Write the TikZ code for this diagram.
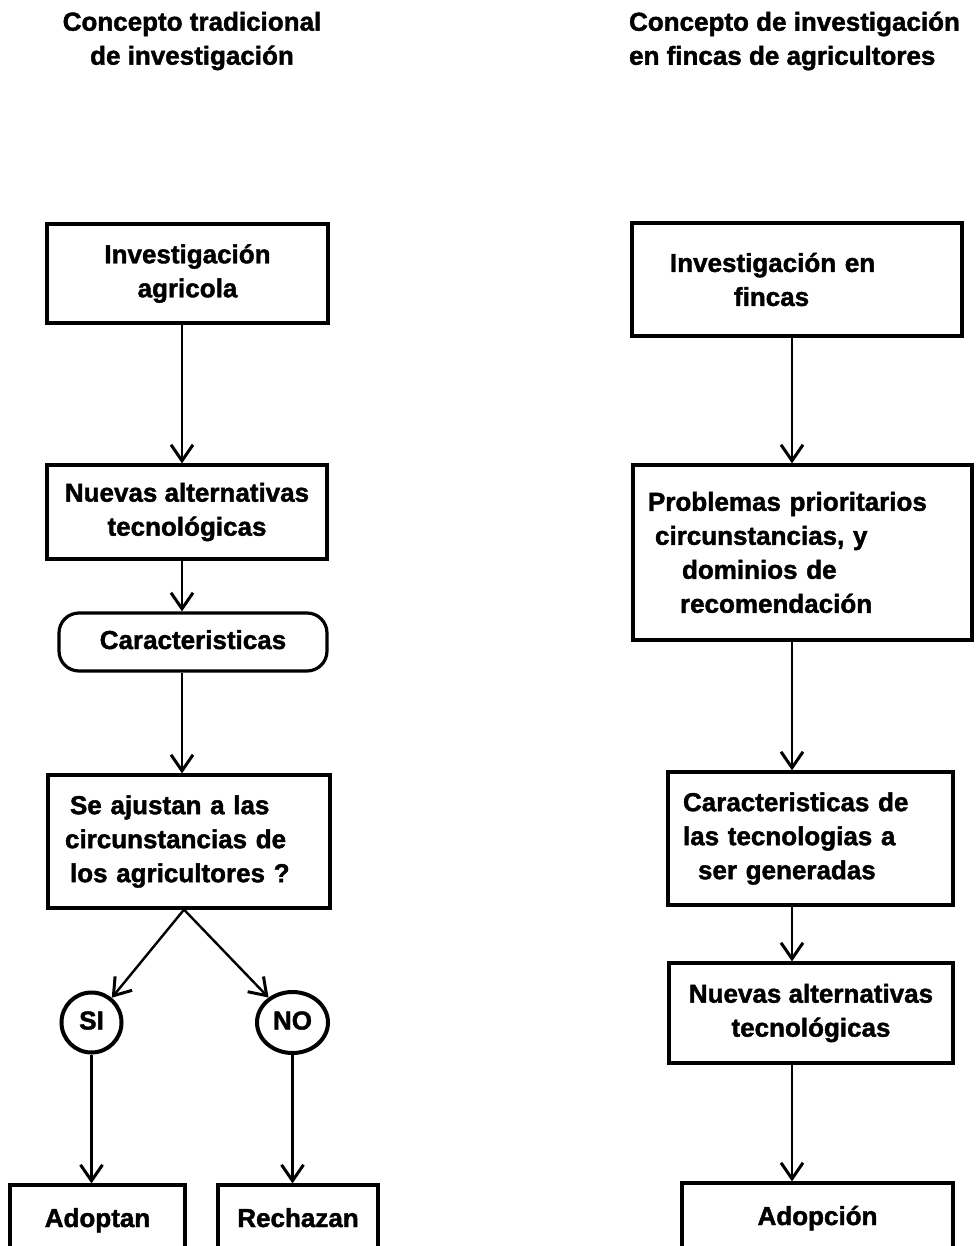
\documentclass[tikz,border=0pt]{standalone}
\usepackage{fontspec}
\setmainfont{Liberation Sans}[BoldFeatures={FakeBold=1.6}]
\usetikzlibrary{arrows.meta,shapes.geometric}

\begin{document}
\begin{tikzpicture}[
    >={Straight Barb[length=8pt,width=11pt,line width=1.5pt]},
    x=0.5pt,
    y=-0.5pt,
    font=\bfseries\fontsize{13}{17}\selectfont,
    caja/.style={draw, line width=1.6pt, inner sep=0pt, align=center},
    una/.style={text height=9.5pt, text depth=2.5pt},
    flecha/.style={->, line width=1.2pt},
    circulo/.style={draw, line width=2pt, circle, minimum size=30pt, inner sep=0pt},
]

\useasboundingbox (0,0) rectangle (977,1246);

% titulos
\node[align=center] (tit1) at (192,41) {Concepto tradicional\\de investigación};
\node[align=left, anchor=west] (tit2) at (622,41) {Concepto de investigación\\en fincas de agricultores};

% concepto tradicional
\coordinate (ejeL) at (182,0);
\node[caja, minimum width=140.5pt, minimum height=49.5pt] (inv) at (187.5,273.5) {Investigación\\agricola};
\node[caja, minimum width=140pt, minimum height=47pt] (nuevas) at (187,512) {Nuevas alternativas\\tecnológicas};
\node[caja, una, rounded corners=10pt, minimum width=134pt, minimum height=29pt] (carac) at (193,642) {Caracteristicas};
\node[caja, align=left, text width=124pt, inner xsep=8.5pt, minimum height=66.5pt] (ajustan) at (189,841.5)
    {\hspace*{2.5pt}Se ajustan a las\\circunstancias de\\\hspace*{2.5pt}los agricultores ?};
\node[circulo, una] (si) at (91.5,1022.5) {SI};
\node[draw, una, ellipse, line width=2pt, minimum width=35.5pt, minimum height=30.5pt, inner sep=0pt] (no) at (292.5,1022.5) {NO};
\node[caja, una, minimum width=87.5pt, minimum height=35pt] (adoptan) at (97.5,1220) {Adoptan};
\node[caja, una, minimum width=80pt, minimum height=35pt] (rechazan) at (298,1220) {Rechazan};

\foreach \a/\b in {inv/nuevas, nuevas/carac, carac/ajustan}
    \draw[flecha] (\a.south -| ejeL) -- (\b.north -| ejeL);
\draw[flecha] ([xshift=-2.5pt]ajustan.south) -- (si);
\draw[flecha] ([xshift=-2.5pt]ajustan.south) -- (no);
\draw[flecha] (si.south) -- (si.south |- adoptan.north);
\draw[flecha] (no.south) -- (no.south |- rechazan.north);

% investigacion en fincas
\coordinate (ejeR) at (792,0);
\node[caja, align=left, text width=127pt, inner xsep=19pt, minimum height=56.5pt] (fincas) at (797,279.5)
    {Investigación en\\\hspace*{32pt}fincas};
\node[caja, align=left, text width=154.5pt, inner xsep=7.5pt, minimum height=87.5pt] (problemas) at (802.5,552.5)
    {Problemas prioritarios\\\hspace*{3.5pt}circunstancias, y\\\hspace*{17pt}dominios de\\\hspace*{16pt}recomendación};
\node[caja, align=left, text width=127.5pt, inner xsep=7.5pt, minimum height=66.5pt] (generar) at (810.5,838.5)
    {Caracteristicas de\\las tecnologias a\\\hspace*{7.5pt}ser generadas};
\node[caja, minimum width=142pt, minimum height=50pt] (nuevas2) at (811,1013) {Nuevas alternativas\\tecnológicas};
\node[caja, una, minimum width=135.5pt, minimum height=35pt] (adopcion) at (817.5,1218) {Adopción};

\foreach \a/\b in {fincas/problemas, problemas/generar, generar/nuevas2, nuevas2/adopcion}
    \draw[flecha] (\a.south -| ejeR) -- (\b.north -| ejeR);

\end{tikzpicture}
\end{document}
